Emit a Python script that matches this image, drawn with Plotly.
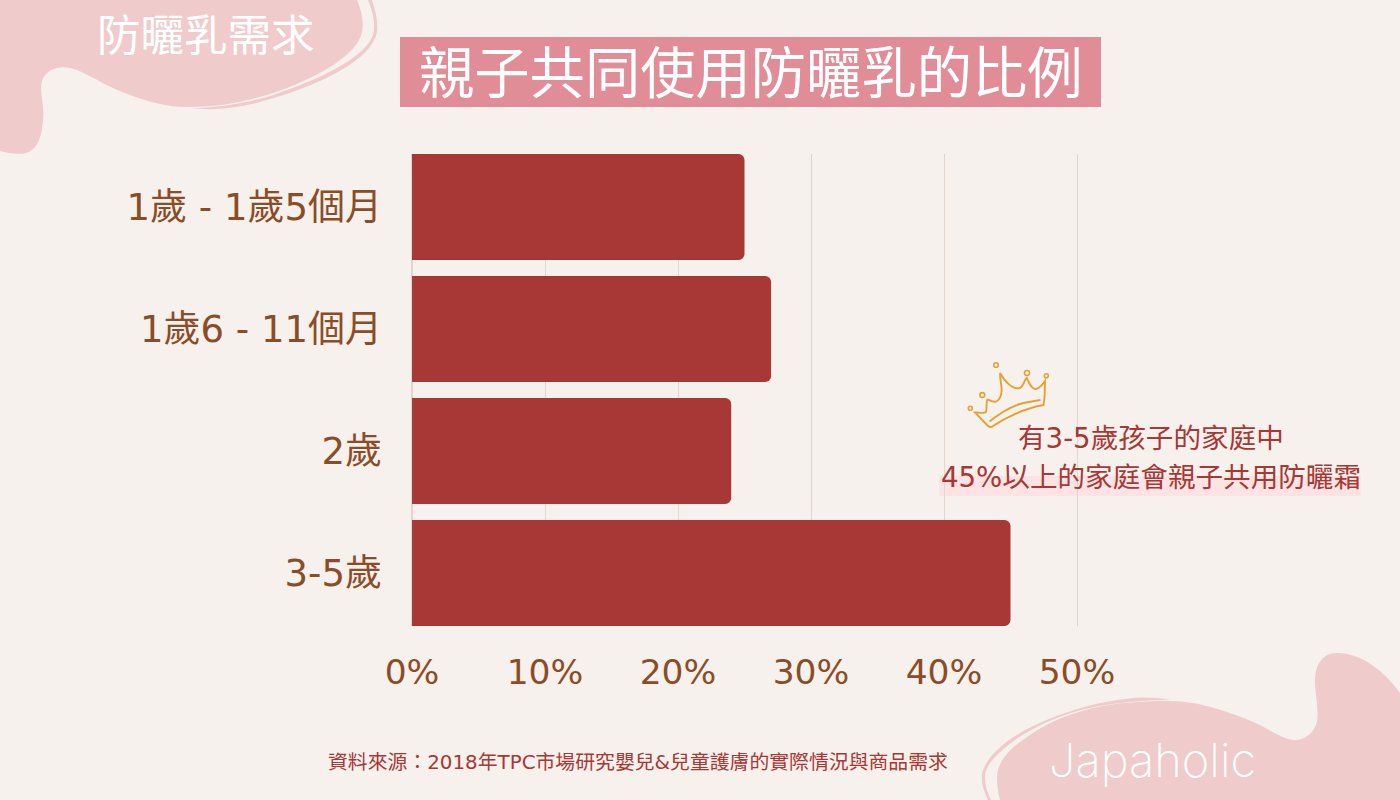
import re
import plotly.graph_objects as go

categories = ["1歲 - 1歲5個月", "1歲6 - 11個月", "2歲", "3-5歲"]
values = [25, 27, 24, 45]
x_ticks = [0, 10, 20, 30, 40, 50]
x_tick_labels = ["0%", "10%", "20%", "30%", "40%", "50%"]

W, H = 1400, 800
L, R, T, B = 412, 1081, 154, 626
BG = "#f6f1ec"; BLOB = "#efcbcc"; BAR = "#a73835"; BROWN = "#8a4d27"; GRID = "#e3d5cd"
CROWN = "#e5a234"; BOX = "#e08d97"; MARK = "#fde3e3"
CJK = "Noto Sans CJK TC"
LAT = "DejaVu Sans, " + CJK


def fx(x):
    return (x - L) / (R - L)


def fy(y):
    return (B - y) / (B - T)


def to_paper(path):
    toks = re.findall(r"[MCLZ]|-?\d+\.?\d*", path)
    out, n = [], 0
    for t in toks:
        if t in "MCLZ":
            out.append(t)
        else:
            out.append(f"{fx(float(t)):.5f}" if n % 2 == 0 else f"{fy(float(t)):.5f}")
            n += 1
    return " ".join(out)


def fill(path, color, layer="below"):
    return dict(type="path", xref="paper", yref="paper", path=to_paper(path),
                fillcolor=color, line=dict(width=0), layer=layer)


def stroke(path, color, w):
    return dict(type="path", xref="paper", yref="paper", path=to_paper(path),
                line=dict(color=color, width=w), layer="above")


def ring(cx, cy, r):
    return dict(type="circle", xref="paper", yref="paper", x0=fx(cx - r), x1=fx(cx + r),
                y0=fy(cy + r), y1=fy(cy - r), line=dict(color=CROWN, width=1.6), layer="above")


def rect(x0, y0, x1, y1, color):
    return dict(type="rect", xref="paper", yref="paper", x0=fx(x0), x1=fx(x1), y0=fy(y1), y1=fy(y0),
                fillcolor=color, line=dict(width=0), layer="below")


def label(text, cx, cy, size, color, family=CJK, weight=None):
    return dict(text=text, xref="paper", yref="paper", x=fx(cx), y=fy(cy), xanchor="center", yanchor="middle",
                showarrow=False, font=dict(size=size, color=color, family=family, weight=weight))


shapes = [
    fill("M 0 0 L 357 0 C 362 12 364 22 362 32 C 358 55 315 80 267 95 C 240 103 215 107 192 107 "
         "C 170 108 150 102 130 95 C 110 88 95 78 77 70 C 65 65 50 66 43 78 C 38 90 45 105 43 120 "
         "C 42 135 38 150 26 153 C 18 155 8 153 0 151 Z", BLOB),
    fill("M 372 0 C 376 12 378 22 377 32 C 372 60 320 85 267 100 C 240 108 215 111 190 108 "
         "C 215 108 240 104 267 97 C 320 80 372 55 374 30 C 375 20 372 10 368 0 Z", BLOB),
    fill("M 1400 693 C 1385 672 1362 653 1337 653 C 1322 653 1315 665 1315 682 C 1315 695 1319 708 1317 722 "
         "C 1314 733 1305 740 1295 740 C 1285 740 1275 733 1260 725 C 1245 718 1235 715 1227 712 "
         "C 1205 705 1190 701 1167 701 C 1140 701 1115 703 1093 708 C 1065 715 1045 724 1027 737 "
         "C 1010 748 997 762 997 777 C 997 785 998 792 1000 800 L 1400 800 Z", BLOB),
    fill("M 988 800 C 984 790 981 785 982 775 C 984 760 1000 745 1020 733 C 1050 716 1090 703 1125 699 "
         "C 1140 697 1155 697 1170 700 C 1150 700 1125 702 1100 706 C 1065 712 1035 726 1015 740 "
         "C 998 752 985 765 985 777 C 985 785 987 792 991 800 Z", BLOB),
    rect(400, 37, 1101, 107, BOX),
    rect(939, 476, 1361, 496, MARK),
    stroke("M 1000 373 C 1005 382 1013 390 1020 388 C 1024 386 1024 380 1026.7 378 C 1029 383 1032 390 1036 389 "
           "C 1040 388 1043 384 1045 381 C 1045 390 1045 398 1043.5 405 C 1025 408 1005 418 993 426 "
           "C 991 428 989 427 987 425 L 975 412.5 C 979 412 983 414 986 412 C 987 408 986 402 987.5 399.5 "
           "C 991 401 994 403 997 401 C 1001 398 1002 394 1001.5 388 C 1001 382 1000 378 1000 373", CROWN, 1.9),
    stroke("M 989.5 421.5 C 1000 413 1010 407 1020 404 C 1027 402 1034 401 1040.5 400", CROWN, 1.9),
    ring(996, 365, 2.3), ring(1027, 373, 2.5), ring(1046.3, 375.7, 2), ring(982.3, 395, 2.4), ring(970.3, 408.3, 2),
]

annotations = [
    label("親子共同使用防曬乳的比例", 751, 69, 55.3, "#ffffff"),
    label("防曬乳需求", 206, 32, 43.5, "#ffffff"),
    label("有3-5歲孩子的家庭中", 1151, 438, 27.6, BAR, LAT),
    label("45%以上的家庭會親子共用防曬霜", 1151, 477, 27.6, BAR, LAT),
    label("資料來源：2018年TPC市場研究嬰兒&兒童護膚的實際情況與商品需求", 638, 762, 19.85, BAR, LAT),
    label("Japaholic", 1152, 759, 47, "#ffffff", "Inter", 200),
]

fig = go.Figure(go.Bar(y=categories, x=values, orientation="h", width=0.87,
                       marker=dict(color=BAR, line=dict(width=0)), hoverinfo="skip"))
fig.update_layout(
    width=W, height=H, autosize=False, showlegend=False,
    paper_bgcolor=BG, plot_bgcolor=BG, barcornerradius=6,
    margin=dict(l=L, r=W - R, t=T, b=H - B, pad=0),
    shapes=shapes, annotations=annotations,
    xaxis=dict(range=[0, 50.3], tickmode="array", tickvals=x_ticks, ticktext=x_tick_labels, showgrid=True,
               gridcolor=GRID, gridwidth=1, zeroline=True, zerolinecolor=GRID, showline=False, ticks="",
               ticklabelstandoff=22, tickfont=dict(size=34.5, color=BROWN, family=LAT)),
    yaxis=dict(type="category", categoryorder="array", categoryarray=categories, range=[3.435, -0.435],
               showgrid=False, zeroline=False, showline=False, ticks="", ticklabelstandoff=29,
               tickfont=dict(size=37, color=BROWN, family=LAT)),
)
fig.write_html("out.html", config=dict(displayModeBar=False),
               post_script="document.body.style.margin='0';document.body.style.background='" + BG + "';")
